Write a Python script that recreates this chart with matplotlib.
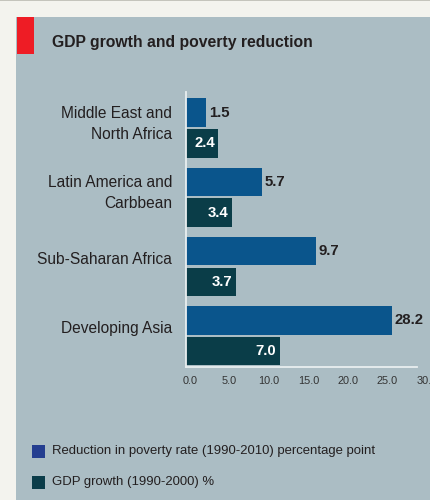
import numpy as np
import matplotlib
matplotlib.use("Agg")
import matplotlib.pyplot as plt
from matplotlib.patches import Rectangle
from matplotlib import font_manager

# data
regions = ["Middle East and\nNorth Africa", "Latin America and\nCarbbean",
           "Sub-Saharan Africa", "Developing Asia"]
poverty_cut = [1.5, 5.7, 9.7, 28.2]   # reduction in poverty rate, pp
gdp_growth = [2.4, 3.4, 3.7, 7.0]     # GDP growth, %
tick_vals = [0, 5, 10, 15, 20, 25, 30]
legend_labels = ["Reduction in poverty rate (1990-2010) percentage point",
                 "GDP growth (1990-2000) %"]

# font: narrow if we have it
names = {f.name for f in font_manager.fontManager.ttflist}
if "Liberation Sans Narrow" in names:
    fam = ["Liberation Sans Narrow", "DejaVu Sans"]
    sc = 1.0
else:
    fam = ["Liberation Sans", "DejaVu Sans"]
    sc = 0.84
plt.rcParams["font.family"] = fam

W, H = 430, 500
fig = plt.figure(figsize=(W / 100, H / 100), dpi=100)
fig.patch.set_facecolor("#f3f3ee")

def box(x0, y0, x1, y1, color, z=0):
    # pixel box (top-left origin) -> figure fraction
    r = Rectangle((x0 / W, 1 - y1 / H), (x1 - x0) / W, (y1 - y0) / H,
                  transform=fig.transFigure, facecolor=color, edgecolor="none", zorder=z)
    fig.add_artist(r)

box(0, 0, W, 1.2, "#c4c4bc")
box(16, 17, W, H, "#abbdc4")
box(17, 17, 34, 53.5, "#ee1c25", z=1)

fig.text(52 / W, 1 - 42.5 / H, "GDP growth and poverty reduction", fontsize=13.5 * sc,
         fontweight="bold", color="#231f20", ha="left", va="center")

# axes
px_per_unit = 13.4
ax_left, ax_top, ax_bot = 186, 92.3, 366.7
ax = fig.add_axes([ax_left / W, 1 - ax_bot / H, (W - ax_left) / W, (ax_bot - ax_top) / H])
ax.set_facecolor("none")

y = np.arange(len(regions))
bh = 0.41
off = 0.223
cap = 15.35  # long bar is cut short like in the original
pov_len = np.minimum(poverty_cut, cap)
ax.barh(y - off, pov_len, height=bh, color="#0a558c", zorder=2)
ax.barh(y + off, gdp_growth, height=bh, color="#0a3d48", zorder=2)

for i in range(len(regions)):
    ax.text(pov_len[i] + 0.2, y[i] - off, f"{poverty_cut[i]:.1f}", ha="left", va="center",
            fontsize=12.8 * sc, fontweight="bold", color="#231f20")
    ax.text(gdp_growth[i] - 0.25, y[i] + off, f"{gdp_growth[i]:.1f}", ha="right", va="center",
            fontsize=12.8 * sc, fontweight="bold", color="white")

ax.set_xlim(0, (W - ax_left) / px_per_unit)
ax.set_ylim(3.446, -0.515)

ax.set_yticks(y - 0.12)
ax.set_yticklabels(regions, fontsize=13.3 * sc, color="#231f20", linespacing=1.45)
ax.tick_params(axis="y", length=0, pad=10)
ax.tick_params(axis="x", length=0, labelbottom=False)

for s in ["top", "right"]:
    ax.spines[s].set_visible(False)
for s in ["left", "bottom"]:
    ax.spines[s].set_color("#e9eef0")
    ax.spines[s].set_linewidth(1.3)
ax.spines["bottom"].set_bounds(0, (417 - ax_left) / px_per_unit)

# tick labels use their own spacing in the original
sec = ax.secondary_xaxis("bottom",
                         functions=(lambda x: (x * px_per_unit - 4) / 7.9,
                                    lambda t: (t * 7.9 + 4) / px_per_unit))
sec.set_xticks(tick_vals)
sec.set_xticklabels([f"{v:.1f}" for v in tick_vals], fontsize=9.3 * sc, color="#333333")
sec.tick_params(length=0, pad=7)
sec.spines["bottom"].set_visible(False)

# legend
leg_colors = ["#243e90", "#0b3d4a"]
leg_y = [451, 482]
for c, lab, yy in zip(leg_colors, legend_labels, leg_y):
    box(32, yy - 6.5, 45, yy + 6.5, c, z=1)
    fig.text(52 / W, 1 - yy / H, lab, fontsize=11.2 * sc, color="#231f20",
             ha="left", va="center")

fig.savefig("out.png", dpi=100, facecolor=fig.get_facecolor())
